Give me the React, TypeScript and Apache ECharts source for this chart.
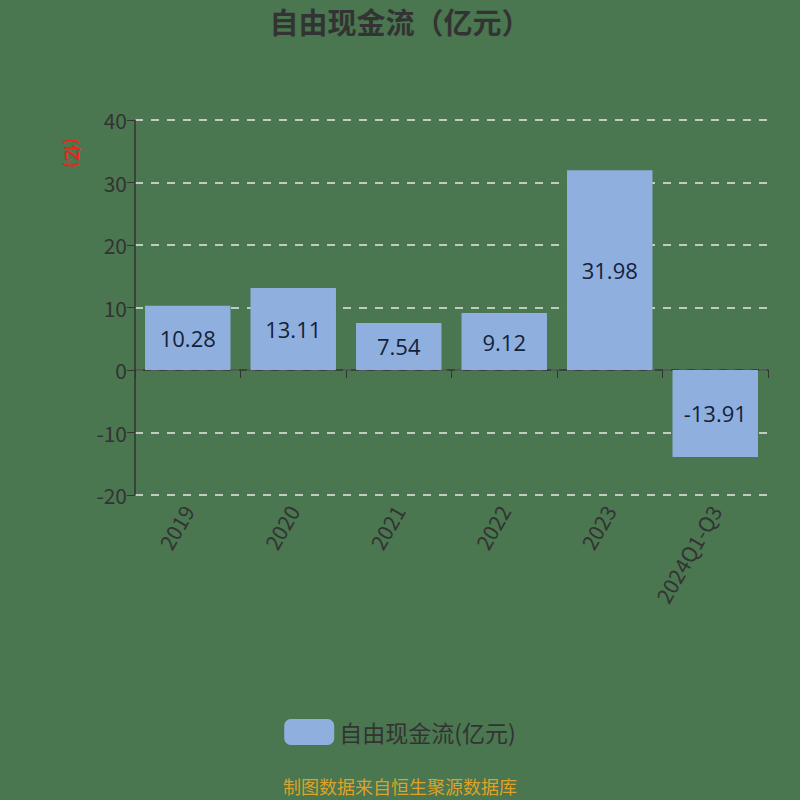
import { useRef, useEffect } from 'react'
import * as echarts from 'echarts'

const categories = ['2019', '2020', '2021', '2022', '2023', '2024Q1-Q3']
const values = [10.28, 13.11, 7.54, 9.12, 31.98, -13.91]
const seriesName = '自由现金流(亿元)'

const BG = '#4a7650'
const BAR = '#8fb0de'
const TEXT = '#333333'
const FONT = "'Noto Sans CJK SC', 'Noto Sans', sans-serif"

export default function App() {
  const chartRef = useRef<HTMLDivElement>(null)

  useEffect(() => {
    if (!chartRef.current) return
    const instance = echarts.init(chartRef.current, null, { renderer: 'svg' })

    instance.setOption({
      animation: false,
      backgroundColor: BG,
      textStyle: { fontFamily: FONT },
      title: {
        text: '自由现金流（亿元）',
        left: 'center',
        top: 1,
        textStyle: { fontSize: 29, fontWeight: 'bold', color: TEXT, fontFamily: FONT },
      },
      grid: { left: 135, right: 32, top: 120, bottom: 305 },
      legend: {
        bottom: 50,
        left: 'center',
        itemWidth: 50,
        itemHeight: 26,
        itemGap: 10,
        textStyle: { fontSize: 23, color: TEXT },
        data: [seriesName],
      },
      graphic: [
        {
          type: 'text',
          x: 82,
          y: 138,
          rotation: -Math.PI / 2,
          style: { text: '(亿)', fill: '#e8261a', fontSize: 17, fontWeight: 'bold', fontFamily: FONT },
        },
        {
          type: 'text',
          left: 'center',
          top: 777,
          style: { text: '制图数据来自恒生聚源数据库', fill: '#dca22a', fontSize: 18, fontFamily: FONT },
        },
      ],
      xAxis: [
        {
          type: 'category',
          data: categories,
          position: 'bottom',
          axisLine: { show: false, onZero: false },
          axisTick: { show: false },
          axisLabel: { rotate: 60, fontSize: 21, color: TEXT, margin: 12 },
        },
        {
          type: 'category',
          data: categories,
          position: 'bottom',
          axisLine: { show: true, onZero: true, lineStyle: { color: TEXT, width: 1.5 } },
          axisTick: { show: true, length: 8, lineStyle: { color: TEXT } },
          axisLabel: { show: false },
        },
      ],
      yAxis: {
        type: 'value',
        min: -20,
        max: 40,
        interval: 10,
        axisLine: { show: true, lineStyle: { color: TEXT, width: 1.5 } },
        axisTick: { show: true, length: 8, lineStyle: { color: TEXT } },
        axisLabel: { fontSize: 21, color: TEXT, margin: 8 },
        splitLine: { lineStyle: { type: [8, 8], color: '#e8e8e8', width: 1.5 } },
      },
      series: [
        {
          name: seriesName,
          type: 'bar',
          data: values,
          barWidth: '81%',
          itemStyle: { color: BAR },
          label: {
            show: true,
            position: 'inside',
            fontSize: 22,
            fontFamily: "'Open Sans', sans-serif",
            color: '#15203a',
            formatter: (p: any) => p.value.toFixed(2),
          },
        },
      ],
    })

    return () => {
      instance.dispose()
    }
  }, [])

  return (
    <div
      ref={chartRef}
      style={{ position: 'fixed', left: 0, top: 0, width: 800, height: 800 }}
    />
  )
}
